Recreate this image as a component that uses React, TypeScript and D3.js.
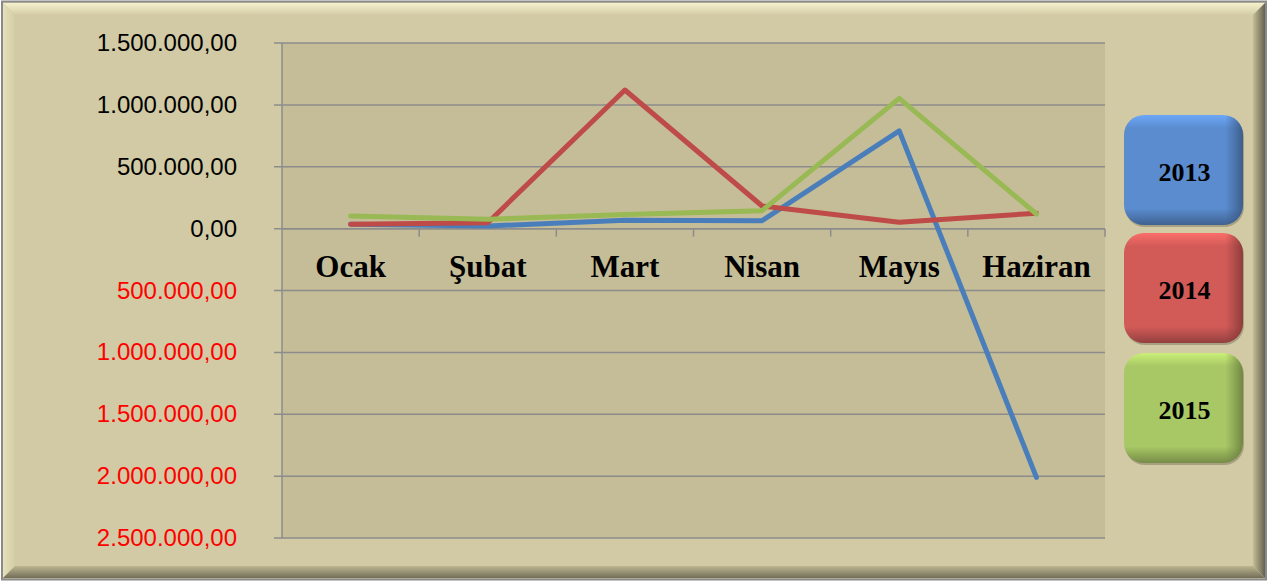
import React from 'react';
import * as d3 from 'd3';

const months = ['Ocak', 'Şubat', 'Mart', 'Nisan', 'Mayıs', 'Haziran'];
const years = ['2013', '2014', '2015'];
const values2013 = [35000, 21000, 67000, 64000, 790000, -2010000];
const values2014 = [35000, 48000, 1120000, 183000, 51000, 125000];
const values2015 = [102000, 75000, 115000, 145000, 1053000, 118000];
const yTicks = [1500000, 1000000, 500000, 0, -500000, -1000000, -1500000, -2000000, -2500000];

const lineColors = ['#4a7ebb', '#be4b48', '#98b954'];
const boxColors = ['#5a8ccf', '#d25b58', '#a8c865'];

const W = 1268, H = 581;
const plot = { left: 282, right: 1105, top: 43, bottom: 538 };

const fmt = (v: number) => {
  const s = d3.format(',.2f')(Math.abs(v));
  return s.replace(/,/g, '#').replace('.', ',').replace(/#/g, '.');
};

export default function App() {
  const x = d3.scaleBand().domain(months).range([plot.left, plot.right]);
  const y = d3.scaleLinear().domain([-2500000, 1500000]).range([plot.bottom, plot.top]);
  const series = [values2013, values2014, values2015];
  const line = d3.line<number>()
    .x((_, i) => (x(months[i]) as number) + x.bandwidth() / 2)
    .y(d => y(d));

  const legendTop = [115, 233, 353];
  const boxH = 110, boxW = 119, boxX = 1124;
  const b = 15; // bevel width

  return (
    <svg width={W} height={H} style={{ position: 'absolute', left: 0, top: 0 }}>
      <defs>
        <linearGradient id="bevTop" x1="0" y1="0" x2="0" y2="1">
          <stop offset="0" stopColor="#f5f0cd" />
          <stop offset="1" stopColor="#d3cca6" />
        </linearGradient>
        <linearGradient id="bevLeft" x1="0" y1="0" x2="1" y2="0">
          <stop offset="0" stopColor="#e6e0bb" />
          <stop offset="1" stopColor="#d3cca6" />
        </linearGradient>
        <linearGradient id="bevRight" x1="0" y1="0" x2="1" y2="0">
          <stop offset="0" stopColor="#c4bd97" />
          <stop offset="1" stopColor="#65614e" />
        </linearGradient>
        <linearGradient id="bevBottom" x1="0" y1="0" x2="0" y2="1">
          <stop offset="0" stopColor="#bdb690" />
          <stop offset="1" stopColor="#726e58" />
        </linearGradient>
        {boxColors.map((c, i) => (
          <linearGradient key={i} id={`box${i}`} x1="0" y1="0" x2="0" y2="1">
            <stop offset="0" stopColor={d3.color(c)!.brighter(0.5).toString()} />
            <stop offset="0.12" stopColor={c} />
            <stop offset="0.85" stopColor={c} />
            <stop offset="1" stopColor={d3.color(c)!.darker(1).toString()} />
          </linearGradient>
        ))}
        {boxColors.map((c, i) => (
          <linearGradient key={i} id={`boxs${i}`} x1="0" y1="0" x2="1" y2="0">
            <stop offset="0.85" stopColor={d3.color(c)!.darker(1.2).toString()} stopOpacity="0" />
            <stop offset="1" stopColor={d3.color(c)!.darker(1.5).toString()} stopOpacity="0.8" />
          </linearGradient>
        ))}
      </defs>

      {/* frame */}
      <rect x={0} y={0} width={W} height={H} fill="#ffffff" />
      <rect x={2} y={1.5} width={W - 4} height={H - 3} fill="#d1caa4" stroke="#8a8a8a" strokeWidth={2} />
      <polygon points={`3,3 ${W - 3},3 ${W - b},${b} ${b},${b}`} fill="url(#bevTop)" />
      <polygon points={`3,3 ${b},${b} ${b},${H - b} 3,${H - 3}`} fill="url(#bevLeft)" />
      <polygon points={`${W - 3},3 ${W - 3},${H - 3} ${W - b},${H - b} ${W - b},${b}`} fill="url(#bevRight)" />
      <polygon points={`3,${H - 3} ${W - 3},${H - 3} ${W - b},${H - b} ${b},${H - b}`} fill="url(#bevBottom)" />
      <rect x={b} y={b} width={W - 2 * b} height={H - 2 * b} fill="#d1caa4" />

      {/* plot area */}
      <rect x={plot.left} y={plot.top} width={plot.right - plot.left} height={plot.bottom - plot.top} fill="#c5bd97" />
      {yTicks.map(t => (
        <g key={t}>
          <line x1={plot.left - 8} x2={plot.right} y1={y(t)} y2={y(t)} stroke="#8c8c8c" strokeWidth={1.5} />
          <text x={237} y={y(t) + 8} textAnchor="end" fontFamily="Liberation Sans, Arial, sans-serif" fontSize={24}
            fill={t < 0 ? '#ff0000' : '#000000'}>{fmt(t)}</text>
        </g>
      ))}
      <line x1={plot.left} x2={plot.left} y1={plot.top} y2={plot.bottom} stroke="#8c8c8c" strokeWidth={1.5} />
      <line x1={plot.left} x2={plot.right} y1={y(0)} y2={y(0)} stroke="#8c8c8c" strokeWidth={1.5} />
      {months.map(m => (
        <line key={m} x1={(x(m) as number) + x.bandwidth()} x2={(x(m) as number) + x.bandwidth()}
          y1={y(0)} y2={y(0) + 8} stroke="#8c8c8c" strokeWidth={1.5} />
      ))}
      {months.map(m => (
        <text key={m} x={(x(m) as number) + x.bandwidth() / 2} y={277} textAnchor="middle"
          fontFamily="Liberation Serif, Times New Roman, serif" fontWeight="bold" fontSize={31} fill="#000">{m}</text>
      ))}

      {series.map((s, i) => (
        <path key={i} d={line(s) || ''} fill="none" stroke={lineColors[i]} strokeWidth={5}
          strokeLinecap="round" strokeLinejoin="round" />
      ))}

      {/* legend */}
      {years.map((yr, i) => (
        <g key={yr}>
          <rect x={boxX + 1} y={legendTop[i] + 2} width={boxW} height={boxH} rx={20} fill="#5a5642" opacity={0.35} />
          <rect x={boxX} y={legendTop[i]} width={boxW} height={boxH} rx={20} fill={`url(#box${i})`} />
          <rect x={boxX} y={legendTop[i]} width={boxW} height={boxH} rx={20} fill={`url(#boxs${i})`} />
          <text x={boxX + boxW / 2 + 1} y={legendTop[i] + 66} textAnchor="middle"
            fontFamily="Liberation Serif, Times New Roman, serif" fontWeight="bold" fontSize={26} fill="#000">{yr}</text>
        </g>
      ))}
    </svg>
  );
}
